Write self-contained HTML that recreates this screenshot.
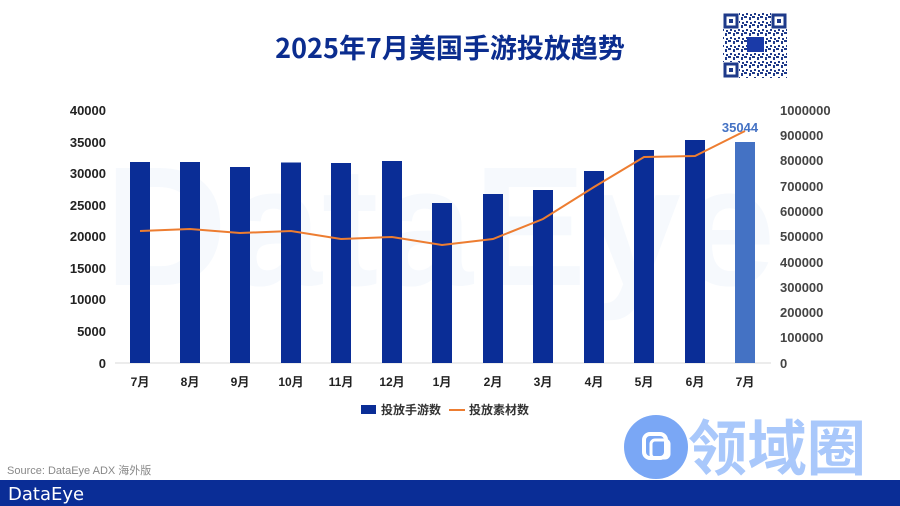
<!DOCTYPE html>
<html><head><meta charset="utf-8"><style>
html,body{margin:0;padding:0;background:#fff;}
body{width:900px;height:506px;overflow:hidden;position:relative;font-family:"Liberation Sans","Noto Sans CJK SC",sans-serif;}
</style></head><body>
<svg width="900" height="506" viewBox="0 0 900 506" xmlns="http://www.w3.org/2000/svg" style="position:absolute;left:0;top:0">
<defs>
<pattern id="qr" width="8" height="8" patternUnits="userSpaceOnUse">
<rect x="0" y="0" width="3" height="2" fill="#1e3a8a"/><rect x="5" y="1" width="2" height="3" fill="#1e3a8a"/><rect x="2" y="5" width="2" height="2" fill="#1e3a8a"/><rect x="6" y="6" width="2" height="2" fill="#1e3a8a"/>
</pattern>
</defs>
<text x="450" y="58" text-anchor="middle" font-size="27" font-weight="bold" fill="#0b2d8f" font-family="Noto Sans CJK SC,sans-serif">2025年7月美国手游投放趋势</text>
<rect x="723" y="13" width="64" height="65" fill="url(#qr)"/>
<g fill="#fff"><rect x="723" y="13" width="16" height="16"/><rect x="771" y="13" width="16" height="16"/><rect x="723" y="62" width="16" height="16"/></g>
<g fill="none" stroke="#1e3a8a" stroke-width="3"><rect x="725" y="15" width="12" height="12"/><rect x="773" y="15" width="12" height="12"/><rect x="725" y="64" width="12" height="12"/></g>
<g fill="#1e3a8a"><rect x="729" y="19" width="4" height="4"/><rect x="777" y="19" width="4" height="4"/><rect x="729" y="68" width="4" height="4"/></g>
<rect x="747" y="37" width="17" height="15" fill="#1a3aa8"/>
<text x="440" y="285" text-anchor="middle" font-size="170" font-weight="bold" fill="#f6f9fd">DataEye</text>
<line x1="115" y1="363" x2="771" y2="363" stroke="#d9d9d9"/>
<g font-size="13" font-weight="bold" fill="#222" text-anchor="end">
<text x="106" y="115">40000</text><text x="106" y="147">35000</text><text x="106" y="178">30000</text><text x="106" y="210">25000</text><text x="106" y="241">20000</text><text x="106" y="273">15000</text><text x="106" y="304">10000</text><text x="106" y="336">5000</text><text x="106" y="368">0</text>
</g>
<g font-size="13" font-weight="bold" fill="#444" text-anchor="start">
<text x="780" y="115">1000000</text><text x="780" y="140">900000</text><text x="780" y="165">800000</text><text x="780" y="191">700000</text><text x="780" y="216">600000</text><text x="780" y="241">500000</text><text x="780" y="267">400000</text><text x="780" y="292">300000</text><text x="780" y="317">200000</text><text x="780" y="342">100000</text><text x="780" y="368">0</text>
</g>
<g fill="#0a2d96">
<rect x="130" y="162" width="20" height="201"/><rect x="180" y="162" width="20" height="201"/><rect x="230" y="167" width="20" height="196"/><rect x="281" y="162.5" width="20" height="200.5"/><rect x="331" y="163" width="20" height="200"/><rect x="382" y="161" width="20" height="202"/><rect x="432" y="203" width="20" height="160"/><rect x="483" y="194" width="20" height="169"/><rect x="533" y="190" width="20" height="173"/><rect x="584" y="171" width="20" height="192"/><rect x="634" y="150" width="20" height="213"/><rect x="685" y="140" width="20" height="223"/>
</g>
<rect x="735" y="142" width="20" height="221" fill="#4472c4"/>
<polyline fill="none" stroke="#ed7d31" stroke-width="2" points="140,231 190,229 240,233 291,231 341,239 392,237 442,245 493,239 543,219 594,187 644,157 695,156 745,131"/>
<text x="740" y="132" text-anchor="middle" font-size="13" font-weight="bold" fill="#4472c4">35044</text>
<g font-size="12" font-weight="bold" fill="#222" text-anchor="middle">
<text x="140" y="386">7月</text><text x="190" y="386">8月</text><text x="240" y="386">9月</text><text x="291" y="386">10月</text><text x="341" y="386">11月</text><text x="392" y="386">12月</text><text x="442" y="386">1月</text><text x="493" y="386">2月</text><text x="543" y="386">3月</text><text x="594" y="386">4月</text><text x="644" y="386">5月</text><text x="695" y="386">6月</text><text x="745" y="386">7月</text>
</g>
<rect x="361" y="405" width="15" height="9" fill="#0a2d96"/>
<text x="381" y="414" font-size="12" font-weight="bold" fill="#333">投放手游数</text>
<line x1="449" y1="410" x2="465" y2="410" stroke="#ed7d31" stroke-width="2"/>
<text x="469" y="414" font-size="12" font-weight="bold" fill="#333">投放素材数</text>
<circle cx="656" cy="447" r="32" fill="#7aa7f5"/>
<rect x="644" y="434" width="22" height="24" rx="6" fill="none" stroke="#fff" stroke-width="4"/>
<rect x="651" y="440" width="18" height="18" rx="4" fill="none" stroke="#fff" stroke-width="3"/>
<text x="688" y="470" font-size="60" font-weight="bold" fill="#a9c8fb" font-family="Noto Sans CJK SC,sans-serif" textLength="178" lengthAdjust="spacingAndGlyphs">领域圈</text>
<text x="7" y="474" font-size="11" fill="#888">Source: DataEye ADX 海外版</text>
<rect x="0" y="480" width="900" height="26" fill="#0a2d96"/>
<text x="8" y="500" font-size="18" fill="#fff" font-family="DejaVu Sans,sans-serif">DataEye</text>
</svg>
</body></html>
